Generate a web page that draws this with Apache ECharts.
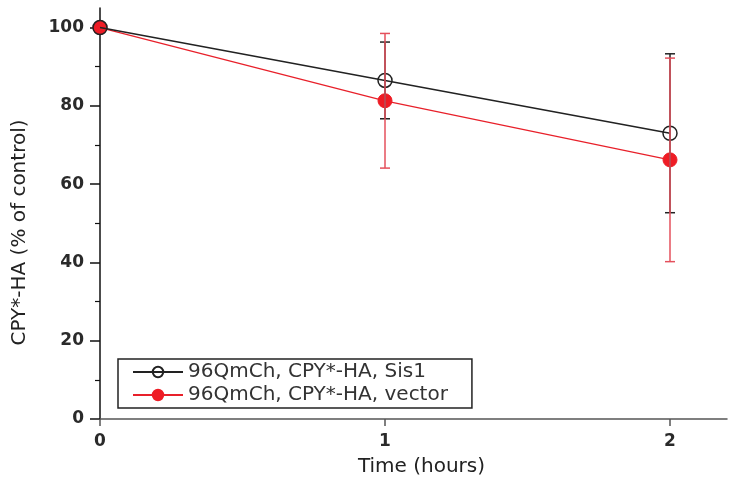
<!DOCTYPE html>
<html>
<head>
<meta charset="utf-8">
<script src="https://cdn.jsdelivr.net/npm/echarts@6/dist/echarts.min.js"></script>
<style>
  html, body { margin: 0; padding: 0; background: #fff; }
  #chart { width: 729px; height: 487px; }
</style>
</head>
<body>
<div id="chart"></div>
<script>
// time points (hours)
const times = [0, 1, 2];
// 96QmCh, CPY*-HA, Sis1
const sis1Mean = [100, 86.5, 73.0];
const sis1Err = [0, 9.8, 20.3];
// 96QmCh, CPY*-HA, vector
const vectorMean = [100, 81.3, 66.2];
const vectorErr = [0, 17.2, 26.0];

const xTicks = [0, 1, 2];
const yMajor = [0, 20, 40, 60, 80, 100];
const yMinor = [10, 30, 50, 70, 90];

const FONT = "DejaVu Sans";

function errData(means, errs) {
  return times.map((t, i) => [t, means[i] - errs[i], means[i] + errs[i]]);
}

// error bar with caps
function errorBar(color, width) {
  return function (params, api) {
    const lo = api.value(1), hi = api.value(2);
    if (hi - lo <= 0) return null;
    const top = api.coord([api.value(0), hi]);
    const bot = api.coord([api.value(0), lo]);
    const cap = 5;
    const style = { stroke: color, lineWidth: width };
    return {
      type: "group",
      children: [
        { type: "line", shape: { x1: top[0], y1: top[1], x2: bot[0], y2: bot[1] }, style: style },
        { type: "line", shape: { x1: top[0] - cap, y1: top[1], x2: top[0] + cap, y2: top[1] }, style: style },
        { type: "line", shape: { x1: bot[0] - cap, y1: bot[1], x2: bot[0] + cap, y2: bot[1] }, style: style },
      ],
    };
  };
}

const chart = echarts.init(document.getElementById("chart"));

const option = {
  backgroundColor: "#fff",
  animation: false,
  grid: { left: 100, right: 2, top: 8, bottom: 68 },
  legend: {
    left: 118,
    top: 359,
    orient: "vertical",
    itemWidth: 50,
    itemHeight: 13,
    itemGap: 3,
    padding: [3, 24, 3, 14],
    borderColor: "#222",
    borderWidth: 1.5,
    textStyle: { fontFamily: FONT, fontSize: 20, color: "#333" },
    data: ["96QmCh, CPY*-HA, Sis1", "96QmCh, CPY*-HA, vector"],
  },
  xAxis: {
    type: "value",
    min: 0,
    max: 2.2,
    interval: 1,
    name: "Time (hours)",
    nameLocation: "middle",
    nameGap: 38,
    nameTextStyle: { fontFamily: FONT, fontSize: 20, color: "#222", padding: [0, 0, 0, 16] },
    axisLine: { show: true, onZero: false, lineStyle: { color: "#555", width: 1.5 } },
    axisTick: { show: true, length: 7, customValues: xTicks, lineStyle: { color: "#555", width: 1.5 } },
    axisLabel: {
      customValues: xTicks,
      margin: 14,
      fontFamily: FONT,
      fontSize: 17,
      fontWeight: "bold",
      color: "#2a2a2a",
    },
    splitLine: { show: false },
  },
  yAxis: [
    {
      type: "value",
      min: 0,
      max: 105,
      interval: 20,
      name: "CPY*-HA (% of control)",
      nameLocation: "middle",
      nameGap: 70,
      nameTextStyle: { fontFamily: FONT, fontSize: 20, color: "#222", padding: [0, 38, 0, 0] },
      axisLine: { show: true, lineStyle: { color: "#111", width: 1.5 } },
      axisTick: { show: true, length: 10, customValues: yMajor, lineStyle: { color: "#111", width: 1.5 } },
      axisLabel: {
        customValues: yMajor,
        margin: 16,
        fontFamily: FONT,
        fontSize: 17,
        fontWeight: "bold",
        color: "#2a2a2a",
      },
      splitLine: { show: false },
    },
    {
      type: "value",
      min: 0,
      max: 105,
      position: "left",
      axisLine: { show: false },
      axisTick: { show: true, length: 5, customValues: yMinor, lineStyle: { color: "#111", width: 1.2 } },
      axisLabel: { show: false },
      splitLine: { show: false },
    },
  ],
  series: [
    {
      name: "96QmCh, CPY*-HA, vector",
      type: "line",
      data: times.map((t, i) => [t, vectorMean[i]]),
      symbol: "circle",
      symbolSize: 14,
      clip: false,
      lineStyle: { color: "#e8202a", width: 1.3 },
      itemStyle: { color: "#ee1c25", borderColor: "#ee1c25", borderWidth: 1 },
      z: 2,
    },
    {
      name: "96QmCh, CPY*-HA, Sis1",
      type: "line",
      data: times.map((t, i) => [t, sis1Mean[i]]),
      symbol: "circle",
      symbolSize: 14,
      clip: false,
      lineStyle: { color: "#222", width: 1.5 },
      itemStyle: { color: "rgba(255,255,255,0)", borderColor: "#222", borderWidth: 1.5 },
      z: 3,
    },
    {
      name: "sis1 error",
      type: "custom",
      renderItem: errorBar("#222", 1.5),
      data: errData(sis1Mean, sis1Err),
      encode: { x: 0, y: [1, 2] },
      z: 4,
      silent: true,
    },
    {
      name: "vector error",
      type: "custom",
      renderItem: errorBar("#e4505c", 1.5),
      data: errData(vectorMean, vectorErr),
      encode: { x: 0, y: [1, 2] },
      z: 5,
      silent: true,
    },
  ],
};

chart.setOption(option);
</script>
</body>
</html>
